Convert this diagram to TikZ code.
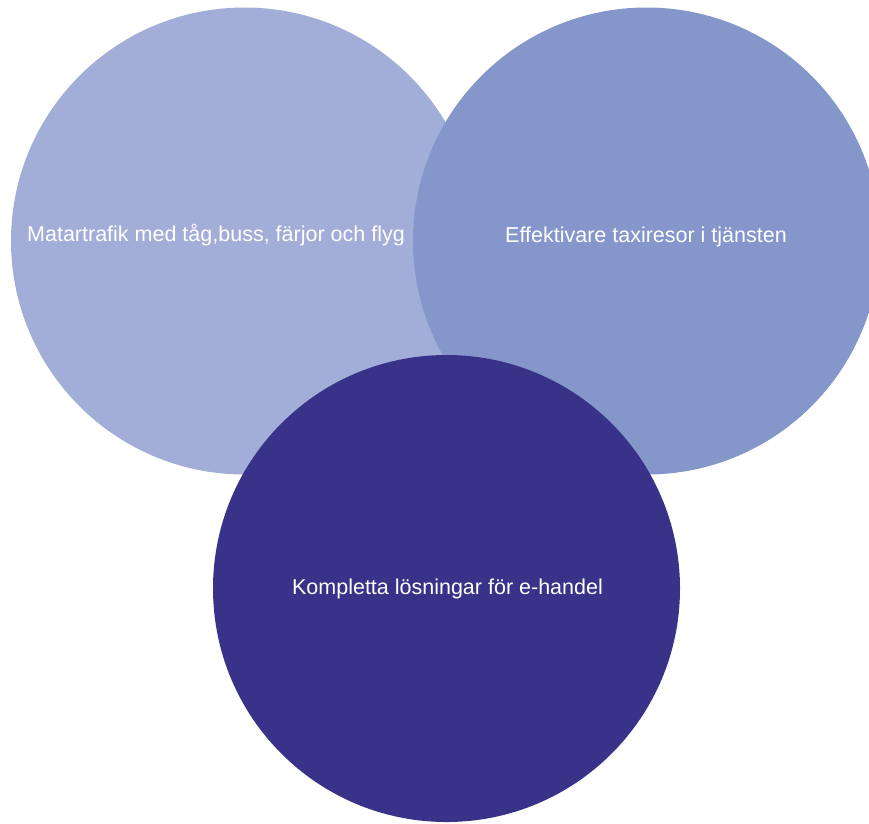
\documentclass[tikz,border=0pt]{standalone}
\usepackage{fontspec}
\setmainfont{Liberation Sans}
\definecolor{cleft}{HTML}{A2AED7}
\definecolor{cright}{HTML}{8596CB}
\definecolor{cbottom}{HTML}{383288}
\begin{document}
\begin{tikzpicture}[x=1pt,y=-1pt,
  bubble/.style={circle,inner sep=0pt,minimum size=467pt},
  label/.style={text=white,font=\fontsize{21.5}{25}\selectfont,anchor=base,inner sep=0pt}]
\useasboundingbox (0,0) rectangle (869,823);
\begin{scope}
\clip (0,0) rectangle (869,823);
\node[bubble,fill=cleft] (c1) at (244.5,241) {};
\node[bubble,fill=cright] (c2) at (646.5,241) {};
\node[bubble,fill=cbottom] (c3) at (446.5,588.5) {};
\end{scope}
\node[label] (t1) at (216,241) {Matartrafik med tåg,buss, färjor och flyg};
\node[label] (t2) at (646,242) {Effektivare taxiresor i tjänsten};
\node[label] (t3) at (447.5,594) {Kompletta lösningar för e-handel};
\end{tikzpicture}
\end{document}
